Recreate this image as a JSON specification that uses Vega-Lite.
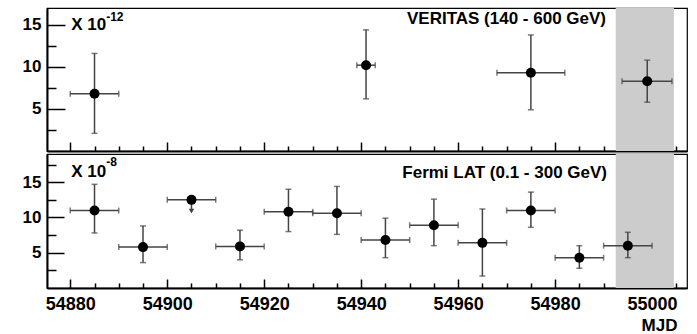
{
  "$schema": "https://vega.github.io/schema/vega-lite/v6.json",
  "padding": {"left": 21, "top": 7, "right": 6, "bottom": 0},
  "spacing": 0,
  "config": {
    "font": "Liberation Sans",
    "view": {"stroke": "black", "strokeWidth": 1.2},
    "axis": {
      "grid": false, "zindex": 1, "tickColor": "black", "domainColor": "black",
      "domainWidth": 2, "tickWidth": 1.5, "labelFont": "Liberation Sans",
      "labelFontWeight": "bold", "labelColor": "black", "title": null
    },
    "text": {"font": "Liberation Sans", "fontWeight": "bold", "color": "black"}
  },
  "datasets": {
    "veritas": [
      {"mjd": 54885, "lo": 54880, "hi": 54890, "flux": 6.8, "ylo": 2.1, "yhi": 11.6, "ul": false},
      {"mjd": 54941, "lo": 54939.1, "hi": 54942.9, "flux": 10.2, "ylo": 6.2, "yhi": 14.4, "ul": false},
      {"mjd": 54975, "lo": 54968, "hi": 54982, "flux": 9.3, "ylo": 4.9, "yhi": 13.8, "ul": false},
      {"mjd": 54999, "lo": 54993.8, "hi": 55004.1, "flux": 8.3, "ylo": 5.8, "yhi": 10.8, "ul": false}
    ],
    "fermi": [
      {"mjd": 54885, "lo": 54880, "hi": 54890, "flux": 11.0, "ylo": 7.8, "yhi": 14.7, "ul": false},
      {"mjd": 54895, "lo": 54890, "hi": 54900, "flux": 5.8, "ylo": 3.6, "yhi": 8.8, "ul": false},
      {"mjd": 54905, "lo": 54900, "hi": 54910, "flux": 12.5, "ylo": 10.9, "yhi": 12.5, "ul": true},
      {"mjd": 54915, "lo": 54910, "hi": 54920, "flux": 5.9, "ylo": 4.0, "yhi": 8.2, "ul": false},
      {"mjd": 54925, "lo": 54920, "hi": 54930, "flux": 10.8, "ylo": 8.0, "yhi": 14.0, "ul": false},
      {"mjd": 54935, "lo": 54930, "hi": 54940, "flux": 10.6, "ylo": 7.6, "yhi": 14.4, "ul": false},
      {"mjd": 54945, "lo": 54940, "hi": 54950, "flux": 6.8, "ylo": 4.3, "yhi": 9.9, "ul": false},
      {"mjd": 54955, "lo": 54950, "hi": 54960, "flux": 8.9, "ylo": 6.0, "yhi": 12.6, "ul": false},
      {"mjd": 54965, "lo": 54960, "hi": 54970, "flux": 6.4, "ylo": 1.7, "yhi": 11.2, "ul": false},
      {"mjd": 54975, "lo": 54970, "hi": 54980, "flux": 11.0, "ylo": 8.6, "yhi": 13.6, "ul": false},
      {"mjd": 54985, "lo": 54980, "hi": 54990, "flux": 4.3, "ylo": 2.8, "yhi": 6.0, "ul": false},
      {"mjd": 54995, "lo": 54990, "hi": 55000, "flux": 6.0, "ylo": 4.3, "yhi": 7.9, "ul": false}
    ],
    "band": [{"start": 54992.5, "end": 55004.5}],
    "titles": [
      {"panel": "veritas", "label": "VERITAS (140 - 600 GeV)", "scale": "X 10", "exp": "-12"},
      {"panel": "fermi", "label": "Fermi LAT (0.1 - 300 GeV)", "scale": "X 10", "exp": "-8"}
    ]
  },
  "vconcat": [
    {
      "width": 640,
      "height": 143,
      "resolve": {"axis": {"x": "independent", "y": "independent"}},
      "layer": [
        {
          "data": {"name": "band"},
          "mark": {"type": "rect", "color": "#cccccc"},
          "encoding": {
            "x": {"field": "start", "type": "quantitative",
                  "scale": {"domain": [54875.2, 55007.2], "nice": false, "zero": false},
                  "axis": {"orient": "bottom", "values": [54880, 54900, 54920, 54940, 54960, 54980, 55000],
                           "labels": false, "tickSize": -9}},
            "x2": {"field": "end"}
          }
        },
        {
          "data": {"name": "veritas"},
          "mark": {"type": "rule", "color": "#444444", "strokeWidth": 1.5},
          "encoding": {
            "x": {"field": "lo", "type": "quantitative",
                  "axis": {"orient": "bottom", "domain": false, "labels": false, "tickSize": -5,
                           "values": [54885, 54890, 54895, 54905, 54910, 54915, 54925, 54930, 54935, 54945, 54950, 54955, 54965, 54970, 54975, 54985, 54990, 54995, 55005]}},
            "x2": {"field": "hi"},
            "y": {"field": "flux", "type": "quantitative",
                  "scale": {"domain": [0, 17], "nice": false},
                  "axis": {"orient": "left", "values": [5, 10, 15], "tickSize": -18, "labels": false}}
          }
        },
        {
          "data": {"name": "veritas"},
          "mark": {"type": "rule", "color": "#444444", "strokeWidth": 1.5},
          "encoding": {
            "x": {"field": "mjd", "type": "quantitative", "axis": null},
            "y": {"field": "ylo", "type": "quantitative",
                  "axis": {"orient": "left", "domain": false, "labels": false, "tickSize": -9,
                           "values": [2.5, 7.5, 12.5]}},
            "y2": {"field": "yhi"}
          }
        },
        {
          "data": {"name": "veritas"},
          "transform": [{"fold": ["lo", "hi"], "as": ["end", "xv"]}],
          "mark": {"type": "tick", "orient": "vertical", "color": "#444444", "size": 6, "thickness": 1.5},
          "encoding": {
            "x": {"field": "xv", "type": "quantitative", "axis": null},
            "y": {"field": "flux", "type": "quantitative", "axis": null}
          }
        },
        {
          "data": {"name": "veritas"},
          "transform": [{"fold": ["ylo", "yhi"], "as": ["end", "yv"]}],
          "mark": {"type": "tick", "orient": "horizontal", "color": "#444444", "size": 6, "thickness": 1.5},
          "encoding": {
            "x": {"field": "mjd", "type": "quantitative", "axis": null},
            "y": {"field": "yv", "type": "quantitative", "axis": null}
          }
        },
        {
          "data": {"name": "veritas"},
          "mark": {"type": "point", "filled": true, "color": "black", "size": 100, "opacity": 1},
          "encoding": {
            "x": {"field": "mjd", "type": "quantitative", "axis": null},
            "y": {"field": "flux", "type": "quantitative",
                  "axis": {"orient": "left", "values": [5, 10, 15], "ticks": false, "tickSize": 0, "domain": false,
                           "labelFontSize": 17, "labelPadding": 6}}
          }
        },
        {
          "data": {"name": "titles"},
          "transform": [{"filter": "datum.panel === 'veritas'"}],
          "layer": [
            {
              "mark": {"type": "text", "align": "right", "baseline": "alphabetic", "fontSize": 17},
              "encoding": {
                "text": {"field": "label"},
                "x": {"datum": 54990.5, "type": "quantitative", "axis": null},
                "y": {"datum": 15.1, "type": "quantitative", "axis": null}
              }
            },
            {
              "mark": {"type": "text", "align": "left", "baseline": "alphabetic", "fontSize": 17},
              "encoding": {
                "text": {"field": "scale"},
                "x": {"datum": 54880.2, "type": "quantitative", "axis": null},
                "y": {"datum": 14.4, "type": "quantitative", "axis": null}
              }
            },
            {
              "mark": {"type": "text", "align": "left", "baseline": "alphabetic", "fontSize": 12},
              "encoding": {
                "text": {"field": "exp"},
                "x": {"datum": 54887.4, "type": "quantitative", "axis": null},
                "y": {"datum": 15.4, "type": "quantitative", "axis": null}
              }
            }
          ]
        }
      ]
    },
    {
      "width": 640,
      "height": 134,
      "resolve": {"axis": {"x": "independent", "y": "independent"}},
      "layer": [
        {
          "data": {"name": "band"},
          "mark": {"type": "rect", "color": "#cccccc"},
          "encoding": {
            "x": {"field": "start", "type": "quantitative",
                  "scale": {"domain": [54875.2, 55007.2], "nice": false, "zero": false},
                  "axis": {"orient": "bottom", "values": [54880, 54900, 54920, 54940, 54960, 54980, 55000],
                           "labels": false, "tickSize": -9}},
            "x2": {"field": "end"}
          }
        },
        {
          "data": {"name": "fermi"},
          "mark": {"type": "rule", "color": "#444444", "strokeWidth": 1.5},
          "encoding": {
            "x": {"field": "lo", "type": "quantitative",
                  "axis": {"orient": "bottom", "domain": false, "labels": false, "tickSize": -5,
                           "values": [54885, 54890, 54895, 54905, 54910, 54915, 54925, 54930, 54935, 54945, 54950, 54955, 54965, 54970, 54975, 54985, 54990, 54995, 55005]}},
            "x2": {"field": "hi"},
            "y": {"field": "flux", "type": "quantitative",
                  "scale": {"domain": [0, 19], "nice": false},
                  "axis": {"orient": "left", "values": [5, 10, 15], "tickSize": -17, "labels": false}}
          }
        },
        {
          "data": {"name": "fermi"},
          "mark": {"type": "rule", "color": "#444444", "strokeWidth": 1.5},
          "encoding": {
            "x": {"field": "mjd", "type": "quantitative", "axis": null},
            "y": {"field": "ylo", "type": "quantitative",
                  "axis": {"orient": "left", "domain": false, "labels": false, "tickSize": -9,
                           "values": [2.5, 7.5, 12.5, 17.5]}},
            "y2": {"field": "yhi"}
          }
        },
        {
          "data": {"name": "fermi"},
          "transform": [{"fold": ["lo", "hi"], "as": ["end", "xv"]}],
          "mark": {"type": "tick", "orient": "vertical", "color": "#444444", "size": 6, "thickness": 1.5},
          "encoding": {
            "x": {"field": "xv", "type": "quantitative", "axis": null},
            "y": {"field": "flux", "type": "quantitative", "axis": null}
          }
        },
        {
          "data": {"name": "fermi"},
          "transform": [{"filter": "!datum.ul"}, {"fold": ["ylo", "yhi"], "as": ["end", "yv"]}],
          "mark": {"type": "tick", "orient": "horizontal", "color": "#444444", "size": 6, "thickness": 1.5},
          "encoding": {
            "x": {"field": "mjd", "type": "quantitative", "axis": null},
            "y": {"field": "yv", "type": "quantitative", "axis": null}
          }
        },
        {
          "data": {"name": "fermi"},
          "transform": [{"filter": "datum.ul"}],
          "mark": {"type": "point", "shape": "triangle-down", "filled": true, "color": "#444444", "size": 30, "opacity": 1},
          "encoding": {
            "x": {"field": "mjd", "type": "quantitative", "axis": null},
            "y": {"field": "ylo", "type": "quantitative", "axis": null}
          }
        },
        {
          "data": {"name": "fermi"},
          "mark": {"type": "point", "filled": true, "color": "black", "size": 100, "opacity": 1},
          "encoding": {
            "x": {"field": "mjd", "type": "quantitative",
                  "axis": {"orient": "bottom", "values": [54880, 54900, 54920, 54940, 54960, 54980, 55000],
                           "ticks": false, "tickSize": 0, "domain": false, "labelFontSize": 18, "labelPadding": 7, "format": "d",
                           "title": "MJD", "titleFontSize": 17, "titleFontWeight": "bold", "titleColor": "black",
                           "titleFont": "Liberation Sans", "titleAlign": "right", "titleX": 630, "titlePadding": 4}},
            "y": {"field": "flux", "type": "quantitative",
                  "axis": {"orient": "left", "values": [5, 10, 15], "ticks": false, "tickSize": 0, "domain": false,
                           "labelFontSize": 17, "labelPadding": 6}}
          }
        },
        {
          "data": {"name": "titles"},
          "transform": [{"filter": "datum.panel === 'fermi'"}],
          "layer": [
            {
              "mark": {"type": "text", "align": "right", "baseline": "alphabetic", "fontSize": 17},
              "encoding": {
                "text": {"field": "label"},
                "x": {"datum": 54990.7, "type": "quantitative", "axis": null},
                "y": {"datum": 15.6, "type": "quantitative", "axis": null}
              }
            },
            {
              "mark": {"type": "text", "align": "left", "baseline": "alphabetic", "fontSize": 17},
              "encoding": {
                "text": {"field": "scale"},
                "x": {"datum": 54880.2, "type": "quantitative", "axis": null},
                "y": {"datum": 15.8, "type": "quantitative", "axis": null}
              }
            },
            {
              "mark": {"type": "text", "align": "left", "baseline": "alphabetic", "fontSize": 12},
              "encoding": {
                "text": {"field": "exp"},
                "x": {"datum": 54887.4, "type": "quantitative", "axis": null},
                "y": {"datum": 17.3, "type": "quantitative", "axis": null}
              }
            }
          ]
        }
      ]
    }
  ]
}
